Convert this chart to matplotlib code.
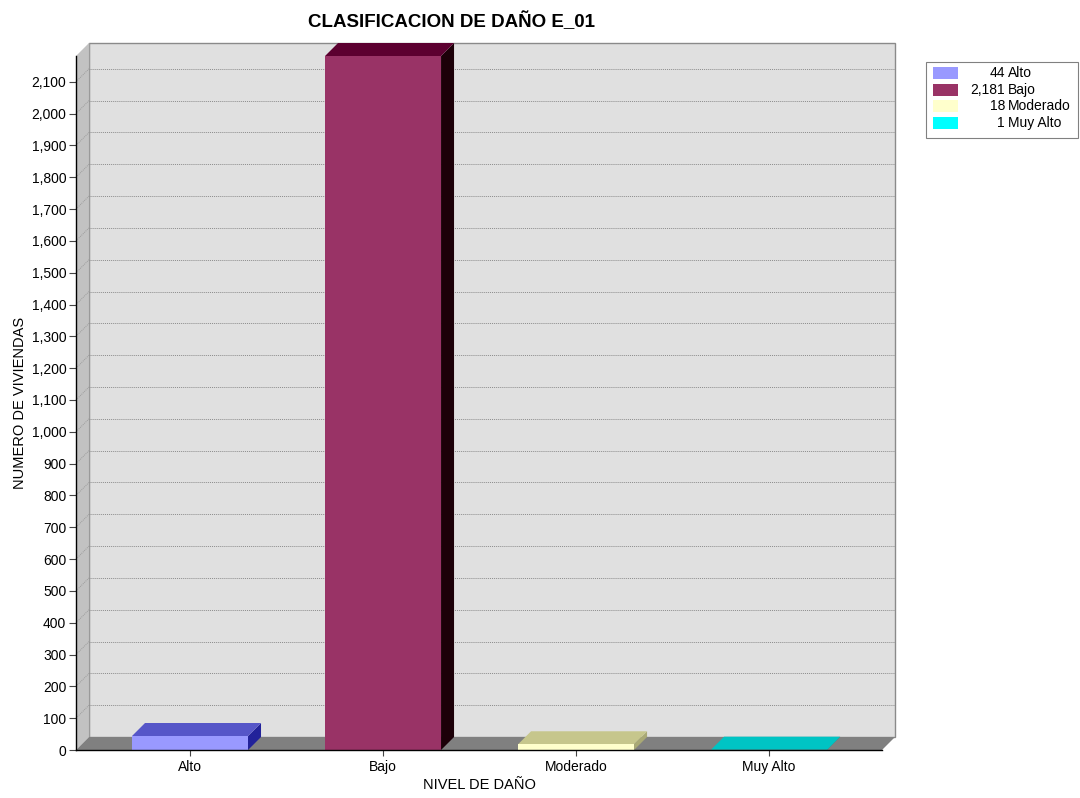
import numpy as np
import matplotlib.pyplot as plt
from matplotlib.patches import Polygon, Rectangle

plt.rcParams['font.family'] = ['Liberation Sans', 'DejaVu Sans']

# data
categorias = ["Alto", "Bajo", "Moderado", "Muy Alto"]
viviendas = [44, 2181, 18, 1]
etiquetas = ["44", "2,181", "18", "1"]

# face colours: front, top, side
frente = ["#9999ff", "#993366", "#ffffcc", "#00ffff"]
arriba = ["#5656c8", "#5c0030", "#c6c68c", "#00c4c4"]
lado = ["#22229a", "#1c0008", "#a9a975", "#009a9a"]

W, H = 1080, 798
fig = plt.figure(figsize=(W / 100, H / 100), dpi=100, facecolor="white")

# front plane of the plot in pixels
L, R, B, T = 76, 882, 750, 56
ax = fig.add_axes([L / W, (H - B) / H, (R - L) / W, (B - T) / H])
ax.set_facecolor("none")

x0, x1 = -0.5907, 3.585
ymax = 2181
ax.set_xlim(x0, x1)
ax.set_ylim(0, ymax)

# depth offset in data units (13 px right, 13 px up)
DX = 13 * (x1 - x0) / (R - L)
DY = 13 * ymax / (B - T)

# back wall
ax.add_patch(Rectangle((x0 + DX, DY), x1 - x0, ymax, facecolor="#e0e0e0",
                       edgecolor="#8a8a8a", lw=1.0, clip_on=False, zorder=0))
# left wall
ax.add_patch(Polygon([(x0, 0), (x0, ymax), (x0 + DX, ymax + DY), (x0 + DX, DY)],
                     closed=True, facecolor="#c2c2c2", edgecolor="none",
                     clip_on=False, zorder=0.5))
ax.plot([x0 + DX, x0 + DX], [DY, ymax + DY], color="#9a9a9a", lw=0.8,
        clip_on=False, zorder=0.6)

# grid lines on the back and left walls
ticks = np.arange(0, 2200, 100)
for v in ticks[1:]:
    ax.plot([x0 + DX, x1 + DX], [v + DY, v + DY], color="#8c8c8c", lw=0.7,
            ls=(0, (1, 1)), clip_on=False, zorder=1)
    ax.plot([x0, x0 + DX], [v, v + DY], color="#9c9c9c", lw=0.7,
            ls=(0, (1, 1)), clip_on=False, zorder=1)

# floor
ax.add_patch(Polygon([(x0, 0), (x1, 0), (x1 + DX, DY), (x0 + DX, DY)],
                     closed=True, facecolor="#808080", edgecolor="none",
                     clip_on=False, zorder=2))

# 3d bars
bw = 0.601
for i, v in enumerate(viviendas):
    a, b = i - bw / 2, i + bw / 2
    ax.add_patch(Polygon([(b, 0), (b + DX, DY), (b + DX, v + DY), (b, v)],
                         closed=True, facecolor=lado[i], edgecolor="none",
                         clip_on=False, zorder=3))
    ax.add_patch(Polygon([(a, v), (b, v), (b + DX, v + DY), (a + DX, v + DY)],
                         closed=True, facecolor=arriba[i], edgecolor="none",
                         clip_on=False, zorder=3))
    ax.add_patch(Rectangle((a, 0), bw, v, facecolor=frente[i], edgecolor="none",
                           clip_on=False, zorder=3))

# axes
for s in ("top", "right"):
    ax.spines[s].set_visible(False)
for s in ("left", "bottom"):
    ax.spines[s].set_color("black")
    ax.spines[s].set_linewidth(1.0)
    ax.spines[s].set_zorder(5)

ax.set_yticks(ticks)
ax.set_yticklabels([f"{t:,}" for t in ticks])
ax.set_xticks(range(len(categorias)))
ax.set_xticklabels(categorias)
ax.tick_params(axis="y", direction="out", length=5, width=0.8, color="#444444",
               labelsize=10, pad=2)
ax.tick_params(axis="x", direction="out", length=4, width=0.8, color="#444444",
               labelsize=10, pad=3)

ax.set_xlabel("NIVEL DE DAÑO", fontsize=10.5, labelpad=3)
ax.set_ylabel("NUMERO DE VIVIENDAS", fontsize=10.5, labelpad=3)

fig.text(451 / W, (H - 22) / H, "CLASIFICACION DE DAÑO E_01", fontsize=13.5,
         fontweight="bold", ha="center", va="center")

# legend box
lx0, lx1, ly0, ly1 = 926, 1078, 62, 138
fig.patches.append(Rectangle((lx0 / W, (H - ly1) / H), (lx1 - lx0) / W,
                             (ly1 - ly0) / H, transform=fig.transFigure,
                             facecolor="white", edgecolor="#808080", lw=0.8))
rows = [73, 90, 106, 123]
for i, y in enumerate(rows):
    fig.patches.append(Rectangle((933 / W, (H - y - 5.5) / H), 25 / W, 11 / H,
                                 transform=fig.transFigure,
                                 facecolor=frente[i], edgecolor="none"))
    fig.text(1005 / W, (H - y) / H, etiquetas[i], fontsize=10, ha="right",
             va="center")
    fig.text(1008 / W, (H - y) / H, categorias[i], fontsize=10, ha="left",
             va="center")

fig.savefig("out.png", dpi=100)
